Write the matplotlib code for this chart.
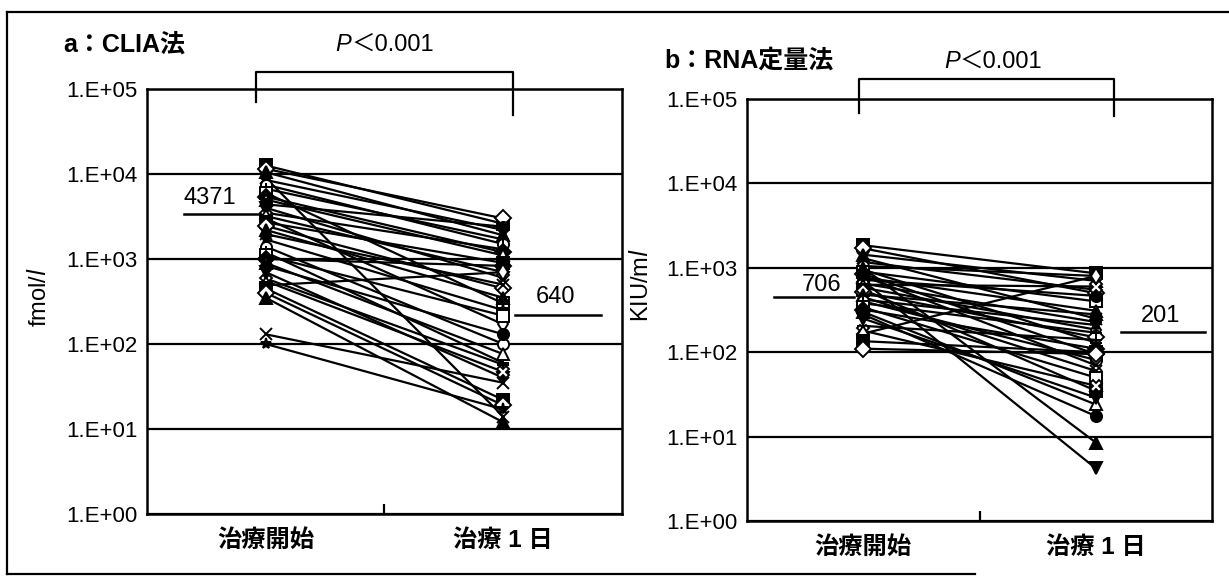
import numpy as np
import matplotlib
matplotlib.use("Agg")
import matplotlib.pyplot as plt
from matplotlib.lines import Line2D
from matplotlib.ticker import FixedLocator, NullLocator

plt.rcParams['font.family'] = ['Liberation Sans', 'Noto Sans CJK JP', 'DejaVu Sans']

# ---- data ----
categories = ['治療開始', '治療 1 日']

# a: CLIA法 (fmol/l)
clia_start = [12600, 11500, 10500, 9000, 8500, 7500, 6700, 6000, 5400, 5000,
              4400, 4000, 3500, 3200, 3000, 2700, 2450, 2200, 1960, 1700,
              1400, 1200, 1100, 1000, 900, 830, 700, 590, 550, 490,
              450, 400, 350, 130, 100]
clia_day1 = [2600, 3000, 1900, 14, 2200, 1500, 1700, 300, 1200, 1100,
             2400, 600, 1300, 700, 170, 900, 450, 350, 500, 250,
             100, 60, 215, 830, 76, 130, 40, 57, 47, 700,
             22, 19, 12, 35, 17]

# b: RNA定量法 (KIU/ml)
rna_start = [1850, 1700, 1430, 1300, 1170, 1050, 950, 900, 850, 770,
             720, 700, 650, 630, 580, 550, 510, 480, 450, 420,
             400, 380, 340, 320, 300, 280, 250, 205, 180, 166,
             135, 110, 1000, 800]
rna_day1 = [860, 500, 700, 250, 550, 800, 130, 400, 95, 310,
            465, 4.2, 228, 600, 185, 35, 150, 280, 60, 210,
            81, 170, 50, 110, 24, 17.5, 29, 140, 40, 800,
            100, 95, 8.5, 70]

median_labels_a = ['4371', '640']
median_labels_b = ['706', '201']
median_levels_a = [3370, 220]   # where the underline sits
median_levels_b = [450, 172]

# marker styles cycled over the subjects
markers = ['s', 'D', '^', 'x', '*', 'o', '+', 's', 'D', '^', 'o', 'v', '_', 'X', 'd']
faces = ['black', 'white', 'black', 'black', 'black', 'white', 'black',
         'white', 'black', 'white', 'black', 'black', 'black', 'white', 'white']


def draw_panel(ax, start, day1, ylabel, title, title_y, p_x, p_y,
               med_labels, med_levels, med_text_pos, med_line_x, bracket, ylab_y):
    for i, (s, e) in enumerate(zip(start, day1)):
        m = markers[i % len(markers)]
        ax.plot([0.5, 1.5], [s, e], color='black', lw=1.6,
                marker=m, markersize=8, markerfacecolor=faces[i % len(faces)],
                markeredgecolor='black', markeredgewidth=1.4, zorder=3, clip_on=False)

    ax.set_yscale('log')
    ax.set_ylim(1, 1e5)
    ax.set_xlim(0, 2)
    ax.yaxis.set_major_locator(FixedLocator(10.0 ** np.arange(6)))
    ax.yaxis.set_minor_locator(NullLocator())
    ax.set_yticklabels([f'1.E+{k:02d}' for k in range(6)])
    ax.tick_params(axis='y', length=0, pad=7, labelsize=16)
    ax.yaxis.grid(True, color='black', lw=1.6, zorder=1)

    ax.xaxis.set_major_locator(FixedLocator([1]))
    ax.xaxis.set_minor_locator(FixedLocator([0.5, 1.5]))
    ax.set_xticklabels([''])
    ax.set_xticklabels(categories, minor=True)
    ax.tick_params(axis='x', which='major', direction='in', length=7, width=1.6)
    ax.tick_params(axis='x', which='minor', length=0, pad=11, labelsize=17.5)
    for lab in ax.get_xticklabels(minor=True):
        lab.set_fontweight('bold')

    for sp in ax.spines.values():
        sp.set_linewidth(1.8)
        sp.set_color('black')

    ax.set_ylabel(ylabel, fontsize=17)
    ax.yaxis.set_label_coords(-0.203, ylab_y)

    ax.text(-0.177, title_y, title, transform=ax.transAxes, fontsize=18,
            fontweight='bold', ha='left', va='center')

    trans = ax.get_xaxis_transform()
    ax.text(p_x - 0.14, p_y, 'P', transform=trans, fontsize=17, style='italic',
            ha='right', va='center')
    ax.text(p_x - 0.14, p_y, '＜0.001', transform=trans, fontsize=17,
            ha='left', va='center')
    bx0, bx1, btop, bl, br = bracket
    ax.add_line(Line2D([bx0, bx0, bx1, bx1], [bl, btop, btop, br], transform=trans,
                       color='black', lw=1.6, clip_on=False))

    for lab, lev, (tx, ty), (lx0, lx1) in zip(med_labels, med_levels, med_text_pos, med_line_x):
        ax.text(tx, ty, lab, transform=trans, fontsize=17, ha='center', va='center')
        ax.plot([lx0, lx1], [lev, lev], color='black', lw=1.8, clip_on=False, zorder=2)


fig = plt.figure(figsize=(12.29, 5.84), dpi=100)
ax1 = fig.add_axes([0.1196, 0.1199, 0.3865, 0.7277])
ax2 = fig.add_axes([0.6078, 0.1079, 0.3784, 0.7226])

draw_panel(ax1, clia_start, clia_day1, 'fmol/$\\mathit{l}$', 'a：CLIA法', 1.104,
           1.0, 1.104, median_labels_a, median_levels_a,
           [(0.265, 0.743), (1.72, 0.511)], [(0.156, 0.484), (1.55, 1.91)],
           (0.46, 1.54, 1.04, 0.97, 0.94), 0.51)
draw_panel(ax2, rna_start, rna_day1, 'KIU/m$\\mathit{l}$', 'b：RNA定量法', 1.09,
           1.054, 1.088, median_labels_b, median_levels_b,
           [(0.32, 0.56), (1.78, 0.486)], [(0.116, 0.46), (1.61, 1.97)],
           (0.48, 1.58, 1.047, 0.967, 0.96), 0.56)

# outer frame of the scanned figure
fig.add_artist(Line2D([7 / 1229, 1.0], [1 - 12 / 584, 1 - 12 / 584], color='black', lw=1.6))
fig.add_artist(Line2D([7 / 1229, 7 / 1229], [1 - 12 / 584, 1 - 574 / 584], color='black', lw=1.6))
fig.add_artist(Line2D([7 / 1229, 975 / 1229], [1 - 574 / 584, 1 - 574 / 584], color='black', lw=1.6))

fig.savefig('out.png', dpi=100)
